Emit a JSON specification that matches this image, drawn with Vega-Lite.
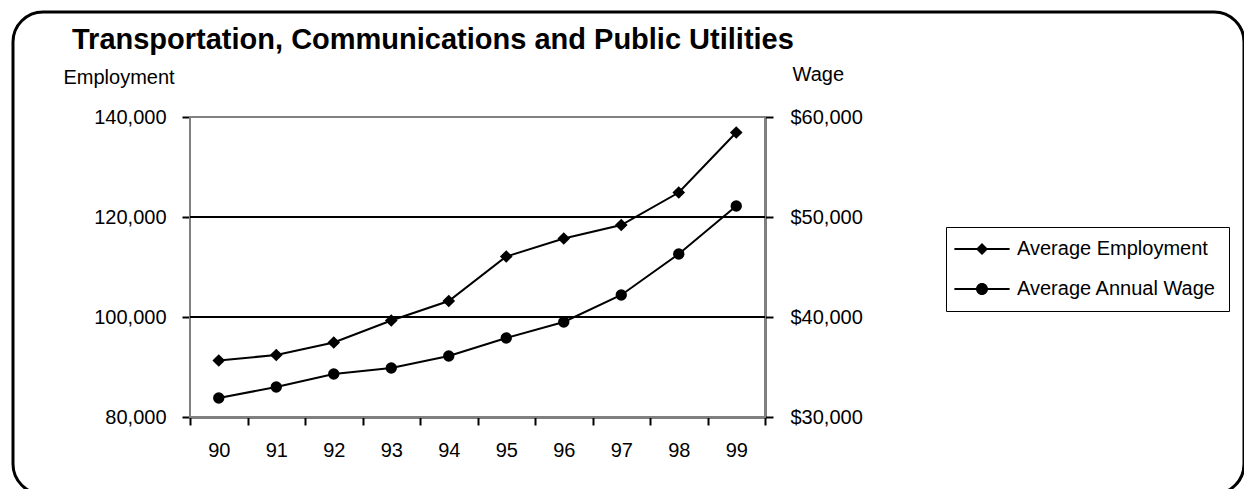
{
  "$schema": "https://vega.github.io/schema/vega-lite/v6.json",
  "autosize": {"type": "none"},
  "padding": {"left": 13, "top": 12, "right": 0, "bottom": 0},
  "width": 1231,
  "height": 482,
  "background": "white",
  "view": {"stroke": "black", "strokeWidth": 3, "cornerRadius": 30, "fill": "white"},
  "config": {
    "font": "Liberation Sans",
    "axis": {"labelFont": "Liberation Sans", "labelColor": "black", "titleFont": "Liberation Sans", "titleColor": "black", "zindex": 2},
    "legend": {"labelFont": "Liberation Sans", "labelColor": "black"}
  },
  "title": {"text": "Transportation, Communications and Public Utilities", "anchor": "start", "frame": "group", "dx": 59, "dy": 66, "offset": 0, "baseline": "alphabetic", "fontSize": 29, "font": "Liberation Sans", "fontWeight": "bold", "color": "black"},
  "data": {"values": [
    {"year": 90, "emp": 91300, "wage": 31900},
    {"year": 91, "emp": 92400, "wage": 33000},
    {"year": 92, "emp": 94900, "wage": 34300},
    {"year": 93, "emp": 99300, "wage": 34900},
    {"year": 94, "emp": 103200, "wage": 36100},
    {"year": 95, "emp": 112100, "wage": 37900},
    {"year": 96, "emp": 115700, "wage": 39500},
    {"year": 97, "emp": 118400, "wage": 42200},
    {"year": 98, "emp": 124900, "wage": 46300},
    {"year": 99, "emp": 136900, "wage": 51100}
  ]},
  "layer": [
    {
      "layer": [
        {
          "mark": {"type": "rect", "fill": "white", "stroke": "#808080", "strokeWidth": 2},
          "encoding": {
            "x": {"datum": 89.5, "type": "quantitative",
              "scale": {"domain": [89.5, 99.5], "range": [177, 752], "nice": false, "zero": false},
              "axis": {"orient": "bottom", "offset": -77, "title": null, "values": [89.5, 90.5, 91.5, 92.5, 93.5, 94.5, 95.5, 96.5, 97.5, 98.5, 99.5], "labels": false, "domainColor": "black", "domainWidth": 2, "tickColor": "black", "tickWidth": 2, "tickSize": 8, "grid": false}},
            "x2": {"datum": 99.5},
            "y": {"datum": 80000, "type": "quantitative",
              "scale": {"domain": [80000, 140000], "range": [405, 105], "nice": false, "zero": false},
              "axis": {"orient": "left", "offset": -177, "values": [80000, 100000, 120000, 140000], "format": ",d", "title": "Employment", "titleAngle": 0, "titleX": -127, "titleY": 65, "titleAlign": "left", "titleBaseline": "middle", "titleFontWeight": "normal", "titleFontSize": 20,
                "labelFontSize": 20, "labelPadding": 16, "domainColor": "black", "domainWidth": 2, "tickColor": "black", "tickWidth": 2, "tickSize": 8, "grid": false}},
            "y2": {"datum": 140000}
          }
        },
        {
          "data": {"values": [{"grid": 100000}, {"grid": 120000}]},
          "mark": {"type": "rule", "color": "black", "strokeWidth": 2},
          "encoding": {
            "x": {"datum": 89.5, "type": "quantitative"},
            "x2": {"datum": 99.5},
            "y": {"field": "grid", "type": "quantitative"}
          }
        },
        {
          "mark": {"type": "line", "color": "black", "strokeWidth": 2},
          "encoding": {
            "x": {"field": "year", "type": "quantitative"},
            "y": {"field": "emp", "type": "quantitative"}
          }
        },
        {
          "mark": {"type": "point", "shape": "diamond", "filled": true, "color": "black", "size": 160, "opacity": 1},
          "encoding": {
            "x": {"field": "year", "type": "quantitative"},
            "y": {"field": "emp", "type": "quantitative"}
          }
        }
      ]
    },
    {
      "encoding": {
        "x": {"field": "year", "type": "quantitative",
          "axis": {"orient": "bottom", "offset": -77, "title": null, "values": [90, 91, 92, 93, 94, 95, 96, 97, 98, 99], "format": "d", "domain": false, "ticks": false, "labelPadding": 23, "labelFontSize": 20, "grid": false}},
        "y": {"field": "wage", "type": "quantitative",
          "scale": {"domain": [30000, 60000], "range": [405, 105], "nice": false, "zero": false},
          "axis": {"orient": "right", "offset": -479, "values": [30000, 40000, 50000, 60000], "format": "$,d", "title": "Wage", "titleAngle": 0, "titleX": 27, "titleY": 62, "titleAlign": "left", "titleBaseline": "middle", "titleFontWeight": "normal", "titleFontSize": 20,
            "labelFontSize": 20, "labelPadding": 17, "domainColor": "black", "domainWidth": 2, "tickColor": "black", "tickWidth": 2, "tickSize": 8, "grid": false}}
      },
      "layer": [
        {"mark": {"type": "line", "color": "black", "strokeWidth": 2}},
        {"mark": {"type": "point", "shape": "circle", "filled": true, "color": "black", "size": 130, "opacity": 1}}
      ]
    },
    {
      "transform": [{"filter": "false"}],
      "mark": {"type": "point", "filled": true, "color": "black", "size": 144, "opacity": 1},
      "encoding": {
        "shape": {"field": "series", "type": "nominal",
          "scale": {"domain": ["Average Employment", "Average Annual Wage"], "range": ["M-4.6,-0.17L4.6,-0.17L4.6,0.17L-4.6,0.17ZM-1,0L0,-1L1,0L0,1Z", "M-4.6,-0.17L4.6,-0.17L4.6,0.17L-4.6,0.17ZM1,0A1,1,0,1,1,-1,0A1,1,0,1,1,1,0Z"]},
          "legend": {"orient": "none", "legendX": 933, "legendY": 215, "title": null, "strokeColor": "black", "fillColor": "white", "padding": 12, "symbolOffset": 14, "labelOffset": 25, "labelFontSize": 20, "labelLimit": 400, "rowPadding": 20, "symbolSize": 144, "symbolFillColor": "black", "symbolStrokeWidth": 0, "symbolOpacity": 1}}
      }
    }
  ],
  "resolve": {"scale": {"y": "independent"}, "axis": {"x": "independent"}}
}
